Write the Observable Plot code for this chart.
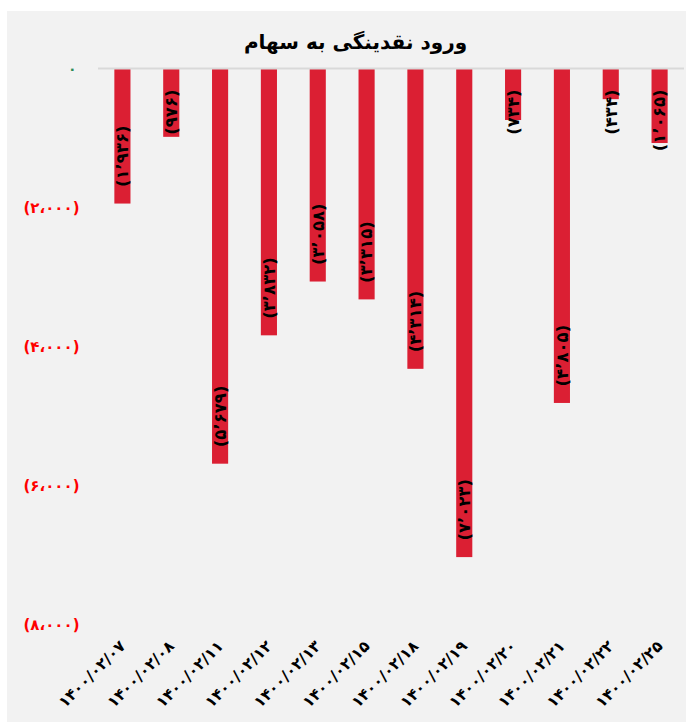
<!DOCTYPE html>
<html>
<head>
<meta charset="utf-8">
<script src="https://cdn.jsdelivr.net/npm/d3@7"></script>
<script src="https://cdn.jsdelivr.net/npm/@observablehq/plot@0.6"></script>
<style>
  html, body { margin: 0; padding: 0; background: #ffffff; }
  #panel { position: absolute; left: 7px; top: 11px; width: 679px; height: 711px; background: #f2f2f2; overflow: hidden; }
  #title { position: absolute; left: 0; top: 0; width: 679px; height: 50px; text-align: center; padding-left: 18px; box-sizing: border-box;
           font-family: "DejaVu Sans", sans-serif; font-weight: bold; font-size: 20px; line-height: 62px; color: #000; direction: rtl; }
  #chart { position: absolute; left: 0; top: 50px; }
  svg { font-family: "DejaVu Sans", sans-serif; overflow: visible; }
</style>
</head>
<body>
<div id="panel">
  <div id="title">ورود نقدینگی به سهام</div>
  <div id="chart"></div>
</div>
<script>
const dates = ["1400/02/07", "1400/02/08", "1400/02/11", "1400/02/12", "1400/02/13", "1400/02/15",
               "1400/02/18", "1400/02/19", "1400/02/20", "1400/02/21", "1400/02/22", "1400/02/25"];
const values = [1936, 976, 5679, 3832, 3058, 3315, 4314, 7023, 734, 4805, 434, 1065];
const yTicks = [0, 2000, 4000, 6000, 8000];

const faDigits = s => String(s).replace(/[0-9]/g, c => "۰۱۲۳۴۵۶۷۸۹"[+c]);
const group = (n, sep) => String(n).replace(/\B(?=(\d{3})+(?!\d))/g, sep);
const barLabel = v => "(" + faDigits(group(v, "٬")) + ")";
const tickLabel = v => v === 0 ? "۰" : "(" + faDigits(group(v, "،")) + ")";

const data = dates.map((d, i) => ({date: d, value: values[i], label: barLabel(values[i])}));
const red = "#db1f33";

const chart = Plot.plot({
  width: 679,
  height: 661,
  marginTop: 8,
  marginBottom: 97,
  marginLeft: 91,
  marginRight: 2,
  style: {background: "transparent", fontFamily: "DejaVu Sans, sans-serif", overflow: "visible"},
  x: {domain: dates, paddingInner: 0.67, paddingOuter: 0.335, round: false, axis: null, label: null},
  y: {domain: [0, 8000], reverse: true, axis: null, label: null},
  marks: [
    Plot.barY(data, {x: "date", y: "value", fill: red}),
    Plot.ruleY([0], {stroke: "#d9d9d9", strokeWidth: 2, dy: -1}),
    Plot.text(data.filter(d => d.value >= 1500), {x: "date", y: "value", text: "label", rotate: -90,
      textAnchor: "start", dy: -17, fontSize: 16.5, fontWeight: "bold", fill: "#000"}),
    Plot.text(data.filter(d => d.value < 1500), {x: "date", y: () => 0, text: "label", rotate: -90,
      textAnchor: "end", dy: 20, fontSize: 16.5, fontWeight: "bold", fill: "#000"}),
    Plot.axisY([0], {tickSize: 0, tickPadding: 22, tickFormat: tickLabel, fill: "#2e8b57", fontSize: 14, fontWeight: "bold", label: null}),
    Plot.axisY(yTicks.filter(t => t !== 0), {tickSize: 0, tickPadding: 19, tickFormat: tickLabel, fill: "#ff0000", fontSize: 15, fontWeight: "bold", label: null}),
    Plot.axisX({tickSize: 0, tickPadding: 18, tickRotate: -45, tickFormat: faDigits, fontSize: 15.5, fontWeight: "bold", fill: "#000", label: null})
  ]
});
document.getElementById("chart").appendChild(chart);
</script>
</body>
</html>
